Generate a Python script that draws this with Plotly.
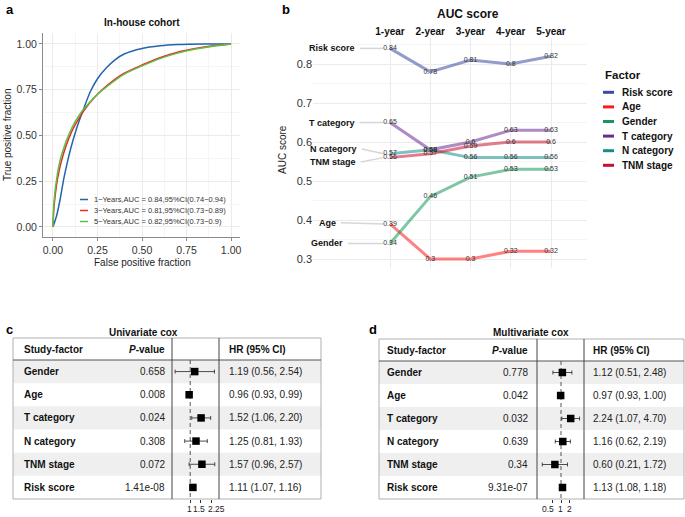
import plotly.graph_objects as go

W, H = 685, 517
FONT = "Liberation Sans, Arial, sans-serif"


def px(x):
    return x / W


def py(y):
    return 1 - y / H


# ---------------- Panel a data: ROC curves ----------------
roc1_fpr = [0, 0.02, 0.04, 0.06, 0.08, 0.10, 0.13, 0.17, 0.21, 0.25, 0.30, 0.35, 0.40, 0.50, 0.60, 0.70, 0.85, 1.0]
roc1_tpr = [0, 0.06, 0.15, 0.26, 0.35, 0.43, 0.53, 0.64, 0.74, 0.81, 0.87, 0.915, 0.945, 0.975, 0.99, 0.997, 1.0, 1.0]
roc3_fpr = [0, 0.005, 0.025, 0.05, 0.10, 0.15, 0.20, 0.25, 0.30, 0.40, 0.50, 0.60, 0.70, 0.80, 0.90, 1.0]
roc3_tpr = [0, 0.10, 0.26, 0.37, 0.51, 0.60, 0.67, 0.725, 0.77, 0.84, 0.885, 0.925, 0.955, 0.975, 0.99, 1.0]
roc5_fpr = [0, 0.005, 0.025, 0.05, 0.10, 0.15, 0.20, 0.25, 0.30, 0.40, 0.50, 0.60, 0.70, 0.80, 0.90, 1.0]
roc5_tpr = [0, 0.13, 0.29, 0.40, 0.53, 0.615, 0.675, 0.725, 0.765, 0.835, 0.88, 0.92, 0.95, 0.972, 0.988, 1.0]
roc_names = ["1\u2212Years,AUC = 0.84,95%CI(0.74\u22120.94)",
             "3\u2212Years,AUC = 0.81,95%CI(0.73\u22120.89)",
             "5\u2212Years,AUC = 0.82,95%CI(0.73\u22120.9)"]
roc_colors = ["#2166ac", "#ee2a24", "#5cbf46"]

# ---------------- Panel b data: AUC over time ----------------
years = ["1-year", "2-year", "3-year", "4-year", "5-year"]
year_pos = [1, 2, 3, 4, 5]
factors = ["Risk score", "Age", "Gender", "T category", "N category", "TNM stage"]
auc_risk = [0.84, 0.78, 0.81, 0.80, 0.82]
auc_age = [0.39, 0.30, 0.30, 0.32, 0.32]
auc_gender = [0.34, 0.46, 0.51, 0.53, 0.53]
auc_t = [0.65, 0.58, 0.60, 0.63, 0.63]
auc_n = [0.57, 0.58, 0.56, 0.56, 0.56]
auc_tnm = [0.56, 0.57, 0.59, 0.60, 0.60]
factor_rgb = [(59, 75, 160), (255, 26, 26), (21, 152, 90), (107, 44, 145), (26, 140, 140), (200, 16, 46)]

# ---------------- Panel c / d data: Cox tables ----------------
cox_factors = ["Gender", "Age", "T category", "N category", "TNM stage", "Risk score"]
uni_p = ["0.658", "0.008", "0.024", "0.308", "0.072", "1.41e-08"]
uni_hr = [1.19, 0.96, 1.52, 1.25, 1.57, 1.11]
uni_lo = [0.56, 0.93, 1.06, 0.81, 0.96, 1.07]
uni_hi = [2.54, 0.99, 2.20, 1.93, 2.57, 1.16]
multi_p = ["0.778", "0.042", "0.032", "0.639", "0.34", "9.31e-07"]
multi_hr = [1.12, 0.97, 2.24, 1.16, 0.60, 1.13]
multi_lo = [0.51, 0.93, 1.07, 0.62, 0.21, 1.08]
multi_hi = [2.48, 1.00, 4.70, 2.19, 1.72, 1.18]
uni_ticks = [1, 1.5, 2.25]
multi_ticks = [0.5, 1, 2]

fig = go.Figure()
annotations = []
shapes = []


def ann(x, y, text, size=10, bold=False, xanchor="center", yanchor="middle", color="#222",
        xref="paper", yref="paper", textangle=0):
    t = f"<b>{text}</b>" if bold else text
    annotations.append(dict(x=x, y=y, xref=xref, yref=yref, text=t, showarrow=False,
                            xanchor=xanchor, yanchor=yanchor, textangle=textangle,
                            font=dict(size=size, color=color, family=FONT)))


# ---------------- Panel a ----------------
for fx, ty, nm, col in zip([roc1_fpr, roc3_fpr, roc5_fpr], [roc1_tpr, roc3_tpr, roc5_tpr], roc_names, roc_colors):
    fig.add_trace(go.Scatter(x=fx, y=ty, mode="lines", name=nm, showlegend=False,
                             line=dict(color=col, width=1.5, shape="spline", smoothing=0.6),
                             xaxis="x", yaxis="y", hoverinfo="skip"))

ann(px(4), py(9), "a", size=13, bold=True, xanchor="left", color="#000")
ann(px(142), py(23), "In-house cohort", size=10, bold=True, color="#111")
ann(px(142), py(262), "False positive fraction", size=10, color="#222")
ann(px(8), py(135), "True positive fraction", size=10, color="#222", textangle=-90)
for i, (nm, col) in enumerate(zip(roc_names, roc_colors)):
    yy = 199.5 + i * 11
    shapes.append(dict(type="line", xref="paper", yref="paper", x0=px(80), x1=px(88), y0=py(yy), y1=py(yy),
                       line=dict(color=col, width=1.5)))
    ann(px(92), py(yy), nm, size=7.5, xanchor="left", color="#333")

# ---------------- Panel b ----------------
auc_all = [auc_risk, auc_age, auc_gender, auc_t, auc_n, auc_tnm]
label_y = [0.84, 0.393, 0.34, 0.65, 0.582, 0.549]
label_right = [0.18, -0.29, -0.12, 0.18, 0.23, 0.205]

for vals, ly, lr in zip(auc_all, label_y, label_right):
    fig.add_trace(go.Scatter(x=[lr + 0.07, 0.84], y=[ly, vals[0]], mode="lines", showlegend=False,
                             line=dict(color="#d6d6d6", width=1.5), xaxis="x2", yaxis="y2", hoverinfo="skip"))
for vals, rgb, nm in zip(auc_all, factor_rgb, factors):
    fig.add_trace(go.Scatter(x=year_pos, y=vals, mode="lines", name=nm, showlegend=False,
                             line=dict(color=f"rgba({rgb[0]},{rgb[1]},{rgb[2]},0.55)", width=3),
                             xaxis="x2", yaxis="y2", hoverinfo="skip"))
for vals in auc_all:
    fig.add_trace(go.Scatter(x=year_pos, y=vals, mode="text", showlegend=False,
                             text=[f"{v:g}" for v in vals], textposition="middle center",
                             textfont=dict(size=7, color="#333", family=FONT),
                             xaxis="x2", yaxis="y2", hoverinfo="skip"))
for nm, ly, lr in zip(factors, label_y, label_right):
    ann(lr, ly, nm, size=9, bold=True, xanchor="right", xref="x2", yref="y2", color="#111")

ann(px(280), py(9), "b", size=13, bold=True, xanchor="left", color="#000")
ann(px(468), py(14), "AUC score", size=12, bold=True, color="#111")
ann(px(282), py(150), "AUC score", size=10, color="#222", textangle=-90)
ann(px(603), py(75), "Factor", size=11.5, bold=True, xanchor="left", color="#111")
for i, (nm, rgb) in enumerate(zip(factors, factor_rgb)):
    yy = 92.3 + i * 14.6
    shapes.append(dict(type="line", xref="paper", yref="paper", x0=px(603), x1=px(614), y0=py(yy), y1=py(yy),
                       line=dict(color=f"rgb({rgb[0]},{rgb[1]},{rgb[2]})", width=3)))
    ann(px(620), py(yy), nm, size=10, bold=True, xanchor="left", color="#111")


# ---------------- Panels c and d ----------------
def cox_table(letter, title, pvals, hr, lo, hi, xa, ya, box, vlines, hdr_y, cols, title_x, tick_labels):
    left, top, right, bottom = box
    for i in range(len(cox_factors)):
        if i % 2 == 0:
            shapes.append(dict(type="rect", xref="paper", yref=ya, x0=px(left), x1=px(right),
                               y0=i - 0.5, y1=i + 0.5, fillcolor="#efefef", line=dict(width=0), layer="below"))
    shapes.append(dict(type="rect", xref="paper", yref="paper", x0=px(left), x1=px(right),
                       y0=py(bottom), y1=py(top), line=dict(color="#b0b0b0", width=1)))
    shapes.append(dict(type="line", xref="paper", yref="paper", x0=px(left), x1=px(right),
                       y0=py(hdr_y), y1=py(hdr_y), line=dict(color="#555", width=1)))
    for vx in vlines:
        shapes.append(dict(type="line", xref="paper", yref="paper", x0=px(vx), x1=px(vx),
                           y0=py(bottom), y1=py(top), line=dict(color="#444", width=1)))
    hy = (top + hdr_y) / 2
    ann(px(cols[0]), py(hy), "Study-factor", size=10, bold=True, xanchor="left", color="#111")
    ann(px(cols[1]), py(hy), "<i>P</i>-value", size=10, bold=True, xanchor="right", color="#111")
    ann(px(cols[2]), py(hy), "HR (95% CI)", size=10, bold=True, xanchor="left", color="#111")
    for i, (f, p, h, l, u) in enumerate(zip(cox_factors, pvals, hr, lo, hi)):
        ann(px(cols[0]), i, f, size=10, bold=True, xanchor="left", yref=ya, color="#111")
        ann(px(cols[1]), i, p, size=10, xanchor="right", yref=ya, color="#222")
        ann(px(cols[2]), i, f"{h:.2f} ({l:.2f}, {u:.2f})", size=10, xanchor="left", yref=ya, color="#222")
    n = len(cox_factors)
    fig.add_trace(go.Scatter(x=[1, 1], y=[-0.5, n - 0.5], mode="lines", showlegend=False,
                             line=dict(color="#555", width=1, dash="4px,3px"),
                             xaxis=xa, yaxis=ya, hoverinfo="skip"))
    fig.add_trace(go.Scatter(x=hr, y=list(range(n)), mode="markers", showlegend=False,
                             marker=dict(symbol="square", size=7.5, color="black"),
                             error_x=dict(type="data", symmetric=False,
                                          array=[u - h for h, u in zip(hr, hi)],
                                          arrayminus=[h - l for h, l in zip(hr, lo)],
                                          color="#222", thickness=0.8, width=2),
                             xaxis=xa, yaxis=ya, hoverinfo="skip"))
    ann(px(left - 9 if letter == "c" else left - 12), py(329), letter, size=13, bold=True, xanchor="left", color="#000")
    ann(px(title_x), py(332), title, size=10, bold=True, color="#111")
    for tx, tl in tick_labels:
        ann(px(tx), py(509), tl, size=8.5, color="#222")


cox_table("c", "Univariate cox", uni_p, uni_hr, uni_lo, uni_hi, "x3", "y3",
          (13, 338, 321, 499), [172, 219], 360, (22, 167, 227), 143,
          [(189, "1"), (198.5, "1.5"), (216.5, "2.25")])
cox_table("d", "Multivariate cox", multi_p, multi_hr, multi_lo, multi_hi, "x4", "y4",
          (379, 339, 684, 499), [537, 584], 361, (385, 530, 591), 531,
          [(548, "0.5"), (560.5, "1"), (569.3, "2")])

grid = "#ebebeb"
minor_grid = "#f5f5f5"
tickfont = dict(size=10.5, color="#333", family=FONT)
fig.update_layout(
    width=W, height=H, margin=dict(l=0, r=0, t=0, b=0),
    paper_bgcolor="white", plot_bgcolor="rgba(0,0,0,0)",
    font=dict(family=FONT),
    annotations=annotations, shapes=shapes,
    xaxis=dict(domain=[px(43), px(240)], range=[-0.056, 1.05], anchor="y",
               tick0=0, dtick=0.25, tickformat=".2f", tickfont=tickfont,
               showline=True, linecolor="#8a8a8a", linewidth=1, ticks="outside", ticklen=3, tickcolor="#8a8a8a",
               showgrid=True, gridcolor=grid, zeroline=False,
               minor=dict(dtick=0.125, showgrid=True, gridcolor=minor_grid)),
    yaxis=dict(domain=[py(237), py(33)], range=[-0.055, 1.06], anchor="x",
               tick0=0, dtick=0.25, tickformat=".2f", tickfont=tickfont,
               showline=True, linecolor="#8a8a8a", linewidth=1, ticks="outside", ticklen=3, tickcolor="#8a8a8a",
               showgrid=True, gridcolor=grid, zeroline=False,
               minor=dict(dtick=0.125, showgrid=True, gridcolor=minor_grid)),
    xaxis2=dict(domain=[px(313), px(587)], range=[-0.913, 5.894], anchor="y2", side="top",
                tickmode="array", tickvals=year_pos, ticktext=years,
                tickfont=dict(size=10, color="#111", family=FONT, weight="bold"),
                showgrid=True, gridcolor=grid, zeroline=False, showline=False, ticks=""),
    yaxis2=dict(domain=[py(268), py(38)], range=[0.277, 0.8667], anchor="x2",
                tick0=0.3, dtick=0.1, tickformat=".1f",
                tickfont=dict(size=11, color="#333", family=FONT),
                showgrid=True, gridcolor=grid, zeroline=False, showline=False, ticks="",
                minor=dict(dtick=0.05, showgrid=True, gridcolor=minor_grid)),
    xaxis3=dict(domain=[px(172), px(219)], type="log", range=[-0.304, 0.481], anchor="y3",
                tickmode="array", tickvals=uni_ticks, showticklabels=False,
                ticks="outside", ticklen=3, tickcolor="#333", showgrid=False, zeroline=False, showline=False),
    yaxis3=dict(domain=[py(499), py(360)], range=[5.5, -0.5], anchor="x3", visible=False),
    xaxis4=dict(domain=[px(537), px(584)], type="log", range=[-0.869, 0.832], anchor="y4",
                tickmode="array", tickvals=multi_ticks, showticklabels=False,
                ticks="outside", ticklen=3, tickcolor="#333", showgrid=False, zeroline=False, showline=False),
    yaxis4=dict(domain=[py(499), py(361)], range=[5.5, -0.5], anchor="x4", visible=False),
)

fig.write_html("out.html", config={"displayModeBar": False},
               post_script="document.body.style.margin='0';document.body.style.overflow='hidden';")
